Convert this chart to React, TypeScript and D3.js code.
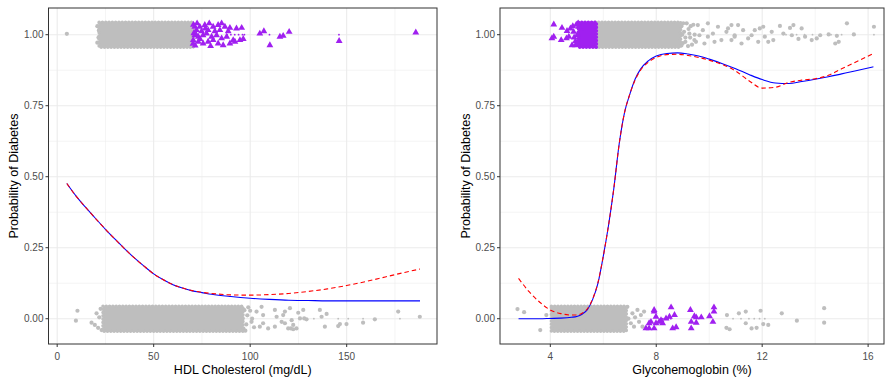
import * as d3 from 'd3'

type Pt = [number, number]

// ---- HDL cholesterol panel ----
const hdlGrid = [5, 10, 15, 20, 25, 30, 35, 40, 45, 50, 55, 60, 65, 70, 75, 80, 90, 100, 110, 120, 130, 140, 150, 160, 170, 180, 188]
const hdlLogit = [0.476, 0.43, 0.39, 0.352, 0.315, 0.28, 0.246, 0.214, 0.185, 0.158, 0.137, 0.12, 0.108, 0.098, 0.092, 0.086, 0.078, 0.072, 0.068, 0.065, 0.064, 0.063, 0.063, 0.063, 0.063, 0.063, 0.063]
const hdlLoess = [0.476, 0.43, 0.39, 0.352, 0.315, 0.28, 0.246, 0.214, 0.185, 0.158, 0.137, 0.12, 0.108, 0.099, 0.093, 0.089, 0.084, 0.083, 0.085, 0.089, 0.096, 0.105, 0.117, 0.131, 0.147, 0.163, 0.175]

// dense jittered blocks: [from, to]
const hdlTopBand: Pt = [22, 70.3]
const hdlBottomBand: Pt = [24, 96]

const hdlTopGray: Pt[] = [[5, 1.003], [20.8, 1.03], [20.8, 0.972], [21.6, 1.015], [21.4, 0.99]]
const hdlTopPurple: Pt[] = [
  [71.3, 1.028], [73.9, 1.028], [76.5, 1.034], [78.8, 1.04], [80.8, 1.028], [83.4, 1.034], [85.2, 1.04], [86.9, 1.028], [89.5, 1.024], [92.9, 1.022], [95.6, 1.024],
  [71.3, 0.998], [73.1, 0.993], [75.6, 0.998], [77.4, 1.004], [80.0, 0.993], [82.6, 0.998], [85.2, 0.987], [87.8, 0.993], [91.2, 0.981], [94.7, 0.981], [96.4, 0.985],
  [70.5, 0.981], [73.1, 0.975], [75.6, 0.969], [78.2, 0.975], [80.8, 0.981], [83.4, 0.969], [86.0, 0.963], [89.5, 0.969], [92.1, 0.975],
  [72.2, 1.016], [74.8, 1.012], [78.2, 1.016], [81.7, 1.012], [84.3, 1.016], [88.6, 1.012],
  [70.6, 1.035], [70.8, 1.005], [71.5, 0.962], [72.5, 1.04], [74.0, 0.985], [76.8, 1.022], [79.5, 0.96], [70.4, 0.968], [72.0, 1.0],
  [105.0, 1.004], [107.1, 1.012], [110.2, 0.963], [115.4, 0.993], [117.1, 0.996], [120.2, 1.01], [146.1, 0.978], [185.8, 1.008],
]
const hdlTopPurpleSmall = [88, 90, 92, 94, 96, 97, 110, 146]
const hdlBottomGray: Pt[] = [
  [10.5, 0.028], [9.7, -0.007], [17.8, -0.014], [19.5, -0.022], [21.2, -0.032], [20.4, 0.019], [21.8, 0.005], [22.5, 0.035], [23, -0.04],
  [95.5, 0.04], [96.5, -0.035], [98.5, 0.012], [97.5, -0.042], [100, 0.028], [102, -0.03], [96, 0.0], [97, 0.03], [98, -0.02], [99, 0.04], [101, 0.0],
  [103.3, 0.025], [106.7, 0.013], [100.7, -0.011], [105.0, -0.028], [109.3, -0.034], [112.8, -0.028], [105.9, 0.042], [106.7, -0.016],
  [112.8, 0.031], [113.7, 0.007], [117.1, 0.013], [116.3, -0.011], [118.0, -0.016], [120.6, 0.037], [121.5, -0.005], [122.3, -0.022],
  [119.7, -0.034], [124.9, 0.021], [125.8, 0.001], [127.5, 0.031], [129.2, -0.002], [124.0, -0.034], [136.1, 0.031], [137.0, 0.007],
  [139.6, 0.017], [138.7, -0.028], [145.6, -0.026], [146.5, -0.019], [149.9, -0.019], [158.5, -0.014], [164.6, -0.002], [176.7, 0.025],
  [187.9, 0.007], [118, 0.025], [121.1, -0.034], [122.3, -0.037], [128, 0.001],
]
const hdlBottomGraySmall = [128, 133, 145.6, 150.8, 158.5, 177.6]

// ---- Glycohemoglobin panel ----
const a1cGrid = [2.8, 3.2, 3.6, 4.0, 4.4, 4.8, 5.0, 5.2, 5.4, 5.6, 5.8, 6.0, 6.2, 6.4, 6.6, 6.8, 7.0, 7.2, 7.4, 7.7, 8.0, 8.4, 8.8, 9.2, 9.6, 10.0, 10.5, 11.0, 11.5, 12.0, 12.5, 13.0, 13.5, 14.0, 14.5, 15.0, 15.5, 16.2]
const a1cLogit = [0, 0, 0, 0.001, 0.002, 0.005, 0.008, 0.016, 0.032, 0.068, 0.125, 0.22, 0.33, 0.46, 0.615, 0.725, 0.79, 0.843, 0.878, 0.908, 0.925, 0.934, 0.936, 0.932, 0.925, 0.914, 0.898, 0.88, 0.86, 0.842, 0.83, 0.828, 0.835, 0.843, 0.852, 0.862, 0.872, 0.887]
const a1cLoess = [0.142, 0.095, 0.058, 0.031, 0.018, 0.013, 0.013, 0.019, 0.035, 0.07, 0.128, 0.22, 0.33, 0.46, 0.615, 0.725, 0.79, 0.84, 0.874, 0.903, 0.92, 0.93, 0.931, 0.927, 0.92, 0.91, 0.895, 0.872, 0.838, 0.812, 0.815, 0.832, 0.84, 0.845, 0.857, 0.88, 0.902, 0.934]

const a1cTopPurpleBand: Pt = [5.08, 5.72]
const a1cTopGrayBand: Pt = [5.72, 8.9]
const a1cBottomBand: Pt = [4.06, 6.85]

const a1cTopPurple: Pt[] = [
  [4.13, 1.036], [4.44, 1.024], [4.13, 0.993], [4.41, 0.981], [4.63, 1.013], [4.7, 0.993], [4.76, 1.022], [4.88, 1.01], [4.95, 0.977],
  [5.01, 0.998], [4.82, 0.963], [5.07, 1.028], [5.14, 1.016], [4.06, 0.987], [4.61, 0.987], [4.95, 0.963], [4.98, 1.035], [5.03, 0.97],
  [4.9, 0.99], [5.05, 1.04], [4.85, 1.03],
]
const a1cTopGray: Pt[] = [
  [8.95, 1.03], [9.0, 0.97], [9.05, 1.01], [9.1, 0.99], [9.15, 1.04], [9.2, 0.96], [8.98, 1.0], [9.22, 1.02], [9.4, 1.035], [9.45, 1.0],
  [9.5, 0.975], [9.1, 0.975], [9.28, 0.99], [8.95, 0.962], [9.02, 1.04],
  [9.57, 1.034], [9.76, 1.016], [9.95, 1.04], [10.14, 1.004], [10.33, 1.028], [10.46, 0.981], [10.65, 1.01], [10.84, 1.034], [10.96, 0.993],
  [9.44, 0.981], [9.82, 0.969], [10.2, 0.975], [9.25, 1.004], [9.95, 0.993], [9.63, 0.998], [9.3, 1.03], [9.35, 0.965],
  [11.72, 1.016], [11.91, 1.022], [12.04, 1.028], [12.1, 0.993], [12.36, 1.01], [12.42, 0.981], [12.23, 0.975], [12.67, 1.031], [12.8, 1.004],
  [13.05, 1.024], [13.12, 0.998], [13.18, 1.034], [13.37, 0.985], [13.49, 1.022], [13.62, 0.993], [13.87, 0.981], [14.06, 0.987], [14.19, 0.998],
  [14.51, 1.001], [14.76, 0.969], [14.89, 0.975], [14.82, 0.996], [15.2, 1.04], [15.46, 1.001], [16.22, 1.028], [11.6, 0.998], [11.85, 0.975],
  [11.47, 0.987], [11.28, 1.016], [11.09, 1.034], [10.96, 0.998], [10.84, 0.981], [11.22, 0.969], [10.71, 1.022],
]
const a1cTopGraySmall = [12.9, 13.3, 13.6, 13.9, 14.2, 14.6, 15.0, 15.5, 16.22]
const a1cBottomGray: Pt[] = [
  [2.76, 0.034], [3.01, 0.023], [3.62, -0.04], [3.85, 0.013],
  [6.91, 0.042], [7.1, 0.019], [7.29, 0.031], [7.42, 0.013], [7.35, -0.011], [7.54, 0.025], [7.16, -0.028], [7.04, -0.016], [7.48, -0.028], [6.95, 0.0], [7.2, 0.005],
  [10.67, 0.013], [10.65, -0.032], [10.77, -0.037], [11.12, 0.019], [11.38, 0.025], [11.38, -0.016], [11.6, -0.034], [11.79, -0.032],
  [11.94, 0.028], [12.04, -0.019], [12.23, -0.022], [12.74, 0.019], [13.31, -0.007], [14.34, 0.037], [14.34, -0.014],
]
const a1cBottomGraySmall = [10.9, 11.2, 11.5, 11.7, 11.9, 12.1]
const a1cBottomPurple: Pt[] = [
  [7.92, 0.031], [7.99, 0.007], [7.8, -0.011], [7.99, -0.016], [8.11, -0.011], [8.24, -0.016], [8.18, -0.005], [8.37, 0.001], [8.56, 0.04],
  [8.5, 0.007], [8.69, 0.013], [8.62, -0.034], [8.75, -0.03], [7.73, -0.034], [7.92, -0.034], [9.29, 0.031], [9.32, -0.034], [9.32, -0.011],
  [9.44, 0.009], [9.51, 0.005], [9.7, 0.005], [9.51, -0.014], [10.01, 0.009], [10.14, -0.011], [10.18, 0.04], [10.18, 0.025],
  [7.61, -0.034], [7.73, -0.016], [7.92, 0.025],
]
const a1cBottomPurpleSmall = [8.25, 8.35, 8.45, 8.55]

const yTicks = [0, 0.25, 0.5, 0.75, 1]
const yMinor = [0.125, 0.375, 0.625, 0.875]
const jitterHalf = 0.042

const GRAY = '#bebebe'
const PURPLE = '#a020f0'
const FONT = 'Liberation Sans, Arial, sans-serif'
const top = 8
const bottom = 344

interface PanelProps {
  left: number
  right: number
  xDomain: [number, number]
  xTicks: number[]
  xMinor: number[]
  xTitle: string
  grid: number[]
  logit: number[]
  loess: number[]
  grayBands: [Pt, number][]
  purpleBands: [Pt, number][]
  grayPts: Pt[]
  purplePts: Pt[]
  graySmall: Pt[]
  purpleSmall: Pt[]
}

function Panel(p: PanelProps) {
  const x = d3.scaleLinear().domain(p.xDomain).range([p.left, p.right])
  const y = d3.scaleLinear().domain([-0.089, 1.094]).range([bottom, top])
  const tri = d3.symbol(d3.symbolTriangle, 20)()
  const line = (vals: number[]) =>
    d3
      .line<number>()
      .x((_, i) => x(p.grid[i]))
      .y((d) => y(d))
      .curve(d3.curveMonotoneX)(vals) || ''

  // a dense block of jittered points: filled core plus a dotted rim so the edge reads as dots
  const block = ([lo, hi]: Pt, lev: number, fill: string, key: string) => {
    const x0 = x(lo)
    const x1 = x(hi)
    const y0 = y(lev + jitterHalf)
    const y1 = y(lev - jitterHalf)
    return (
      <g key={key}>
        <rect x={x0 - 0.5} y={y0 - 0.5} width={x1 - x0 + 1} height={y1 - y0 + 1} fill={fill} />
        <rect x={x0 - 0.5} y={y0 - 0.5} width={x1 - x0 + 1} height={y1 - y0 + 1} fill="none" stroke={fill} strokeWidth={3.6} strokeLinecap="round" strokeDasharray="0,3.3" />
      </g>
    )
  }

  return (
    <g>
      {/* grid */}
      {yMinor.map((t) => (
        <line key={'ym' + t} x1={p.left} x2={p.right} y1={y(t)} y2={y(t)} stroke="#ebebeb" strokeWidth={0.55} />
      ))}
      {p.xMinor.map((t) => (
        <line key={'xm' + t} x1={x(t)} x2={x(t)} y1={top} y2={bottom} stroke="#ebebeb" strokeWidth={0.55} />
      ))}
      {yTicks.map((t) => (
        <line key={'yg' + t} x1={p.left} x2={p.right} y1={y(t)} y2={y(t)} stroke="#ebebeb" strokeWidth={1.1} />
      ))}
      {p.xTicks.map((t) => (
        <line key={'xg' + t} x1={x(t)} x2={x(t)} y1={top} y2={bottom} stroke="#ebebeb" strokeWidth={1.1} />
      ))}

      {p.graySmall.map(([a, b], i) => (
        <circle key={'gs' + i} cx={x(a)} cy={y(b)} r={0.9} fill={GRAY} />
      ))}
      {p.purpleSmall.map(([a, b], i) => (
        <circle key={'ps' + i} cx={x(a)} cy={y(b)} r={0.9} fill={PURPLE} />
      ))}
      {p.grayPts.map(([a, b], i) => (
        <circle key={'g' + i} cx={x(a)} cy={y(b)} r={2.1} fill={GRAY} />
      ))}
      {p.grayBands.map(([r, lev], i) => block(r, lev, GRAY, 'gb' + i))}
      {p.purpleBands.map(([r, lev], i) => block(r, lev, PURPLE, 'pb' + i))}
      {p.purplePts.map(([a, b], i) => (
        <path key={'p' + i} d={tri} transform={`translate(${x(a)},${y(b)})`} fill={PURPLE} />
      ))}

      {/* fitted curves */}
      <path d={line(p.logit)} fill="none" stroke="#0000ff" strokeWidth={1.1} />
      <path d={line(p.loess)} fill="none" stroke="#ff0000" strokeWidth={1.1} strokeDasharray="4.5,3" />

      {/* panel border */}
      <rect x={p.left} y={top} width={p.right - p.left} height={bottom - top} fill="none" stroke="#333333" strokeWidth={1} />

      {/* y axis */}
      {yTicks.map((t) => (
        <g key={'yt' + t}>
          <line x1={p.left - 3} x2={p.left} y1={y(t)} y2={y(t)} stroke="#333333" strokeWidth={1} />
          <text x={p.left - 5} y={y(t) + 3.6} textAnchor="end" fontSize={10} fill="#4d4d4d" fontFamily={FONT}>
            {d3.format('.2f')(t)}
          </text>
        </g>
      ))}
      <text transform={`translate(${p.left - 30.5},${(top + bottom) / 2}) rotate(-90)`} textAnchor="middle" fontSize={12.5} fill="#000" fontFamily={FONT}>
        Probability of Diabetes
      </text>

      {/* x axis */}
      {p.xTicks.map((t) => (
        <g key={'xt' + t}>
          <line x1={x(t)} x2={x(t)} y1={bottom} y2={bottom + 3} stroke="#333333" strokeWidth={1} />
          <text x={x(t)} y={bottom + 15.5} textAnchor="middle" fontSize={10} fill="#4d4d4d" fontFamily={FONT}>
            {t}
          </text>
        </g>
      ))}
      <text x={(p.left + p.right) / 2} y={374} textAnchor="middle" fontSize={12.5} fill="#000" fontFamily={FONT}>
        {p.xTitle}
      </text>
    </g>
  )
}

const at = (xs: number[], lev: number): Pt[] => xs.map((v) => [v, lev])

export default function App() {
  return (
    <div style={{ position: 'absolute', left: 0, top: 0 }}>
      <svg width={885} height={379} style={{ display: 'block', background: '#fff' }}>
        <Panel
          left={48.5}
          right={437}
          xDomain={[-4.5, 196.8]}
          xTicks={[0, 50, 100, 150]}
          xMinor={[25, 75, 125, 175]}
          xTitle="HDL Cholesterol (mg/dL)"
          grid={hdlGrid}
          logit={hdlLogit}
          loess={hdlLoess}
          grayBands={[[hdlTopBand, 1], [hdlBottomBand, 0]]}
          purpleBands={[]}
          grayPts={[...hdlTopGray, ...hdlBottomGray]}
          purplePts={hdlTopPurple}
          graySmall={at(hdlBottomGraySmall, 0)}
          purpleSmall={at(hdlTopPurpleSmall, 1)}
        />
        <Panel
          left={500}
          right={884}
          xDomain={[2.1, 16.6]}
          xTicks={[4, 8, 12, 16]}
          xMinor={[6, 10, 14]}
          xTitle="Glycohemoglobin (%)"
          grid={a1cGrid}
          logit={a1cLogit}
          loess={a1cLoess}
          grayBands={[[a1cTopGrayBand, 1], [a1cBottomBand, 0]]}
          purpleBands={[[a1cTopPurpleBand, 1]]}
          grayPts={[...a1cTopGray, ...a1cBottomGray]}
          purplePts={[...a1cTopPurple, ...a1cBottomPurple]}
          graySmall={[...at(a1cTopGraySmall, 1), ...at(a1cBottomGraySmall, 0)]}
          purpleSmall={at(a1cBottomPurpleSmall, 0)}
        />
      </svg>
    </div>
  )
}
